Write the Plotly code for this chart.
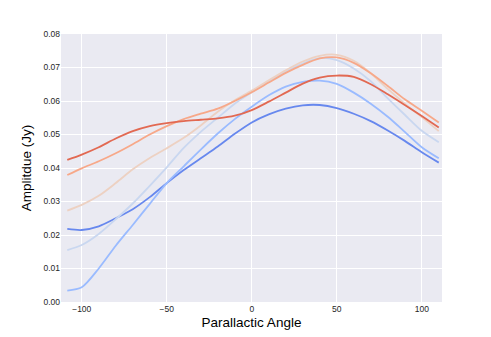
import plotly.graph_objects as go

angle = [-108.5, -100, -90, -80, -70, -60, -50, -40, -30, -20, -10, 0,
         10, 20, 30, 40, 50, 60, 70, 80, 90, 100, 110]

amp_1 = [0.0218, 0.0215, 0.0226, 0.0250, 0.0277, 0.0313, 0.0355, 0.0394, 0.0429, 0.0464, 0.0502, 0.0536,
         0.0560, 0.0577, 0.0587, 0.0588, 0.0579, 0.0562, 0.0540, 0.0512, 0.0481, 0.0447, 0.0416]
amp_2 = [0.0034, 0.0044, 0.0100, 0.0168, 0.0230, 0.0293, 0.0355, 0.0405, 0.0455, 0.0503, 0.0546, 0.0583,
         0.0617, 0.0643, 0.0657, 0.0661, 0.0651, 0.0625, 0.0592, 0.0553, 0.0508, 0.0462, 0.0429]
amp_3 = [0.0155, 0.0170, 0.0203, 0.0247, 0.0294, 0.0347, 0.0402, 0.0460, 0.0508, 0.0550, 0.0592, 0.0626,
         0.0658, 0.0688, 0.0712, 0.0728, 0.0722, 0.0697, 0.0659, 0.0608, 0.0559, 0.0511, 0.0477]
amp_4 = [0.0273, 0.0290, 0.0317, 0.0355, 0.0396, 0.0430, 0.0459, 0.0490, 0.0527, 0.0568, 0.0602, 0.0631,
         0.0662, 0.0692, 0.0718, 0.0735, 0.0738, 0.0720, 0.0683, 0.0636, 0.0592, 0.0552, 0.0510]
amp_5 = [0.0379, 0.0399, 0.0420, 0.0444, 0.0471, 0.0500, 0.0525, 0.0546, 0.0562, 0.0577, 0.0600, 0.0626,
         0.0655, 0.0684, 0.0708, 0.0727, 0.0730, 0.0714, 0.0683, 0.0645, 0.0605, 0.0571, 0.0536]
amp_6 = [0.0424, 0.0440, 0.0462, 0.0488, 0.0510, 0.0525, 0.0534, 0.0540, 0.0544, 0.0548, 0.0556, 0.0573,
         0.0598, 0.0625, 0.0652, 0.0670, 0.0676, 0.0672, 0.0650, 0.0620, 0.0588, 0.0555, 0.0521]

series = [amp_1, amp_2, amp_3, amp_4, amp_5, amp_6]
# coolwarm, 6 colours
colors = ["#6788ee", "#9abbff", "#c9d7f0", "#edd1c2", "#f7a889", "#e26952"]

fig = go.Figure()
for s, c in zip(series, colors):
    fig.add_trace(go.Scatter(x=angle, y=s, mode="lines",
                             line=dict(color=c, width=1.8, shape="spline", smoothing=0.8),
                             showlegend=False))

# page has an 8px body margin, so shift the plot area back up/left
fig.update_layout(
    width=491, height=337,
    margin=dict(l=53, r=57, t=26, b=43),
    paper_bgcolor="white",
    plot_bgcolor="#eaeaf2",
    font=dict(family="Liberation Sans, Arial, sans-serif", color="#262626", size=8.5),
)
fig.update_xaxes(
    range=[-112.2, 111.9],
    tickvals=[-100, -50, 0, 50, 100],
    ticktext=["\u2212100", "\u221250", "0", "50", "100"],
    showgrid=True, gridcolor="white", gridwidth=1,
    zeroline=False, showline=False, ticks="",
    tickfont=dict(size=8.5),
    title=dict(text="Parallactic Angle", font=dict(size=13.5, color="black"), standoff=5),
)
fig.update_yaxes(
    range=[0, 0.08],
    tickvals=[0, 0.01, 0.02, 0.03, 0.04, 0.05, 0.06, 0.07, 0.08],
    tickformat=".2f",
    showgrid=True, gridcolor="white", gridwidth=1,
    zeroline=False, showline=False, ticks="",
    tickfont=dict(size=8.5),
    title=dict(text="Amplitdue (Jy)", font=dict(size=13.5, color="black"), standoff=8),
)

fig.write_html("out.html")
